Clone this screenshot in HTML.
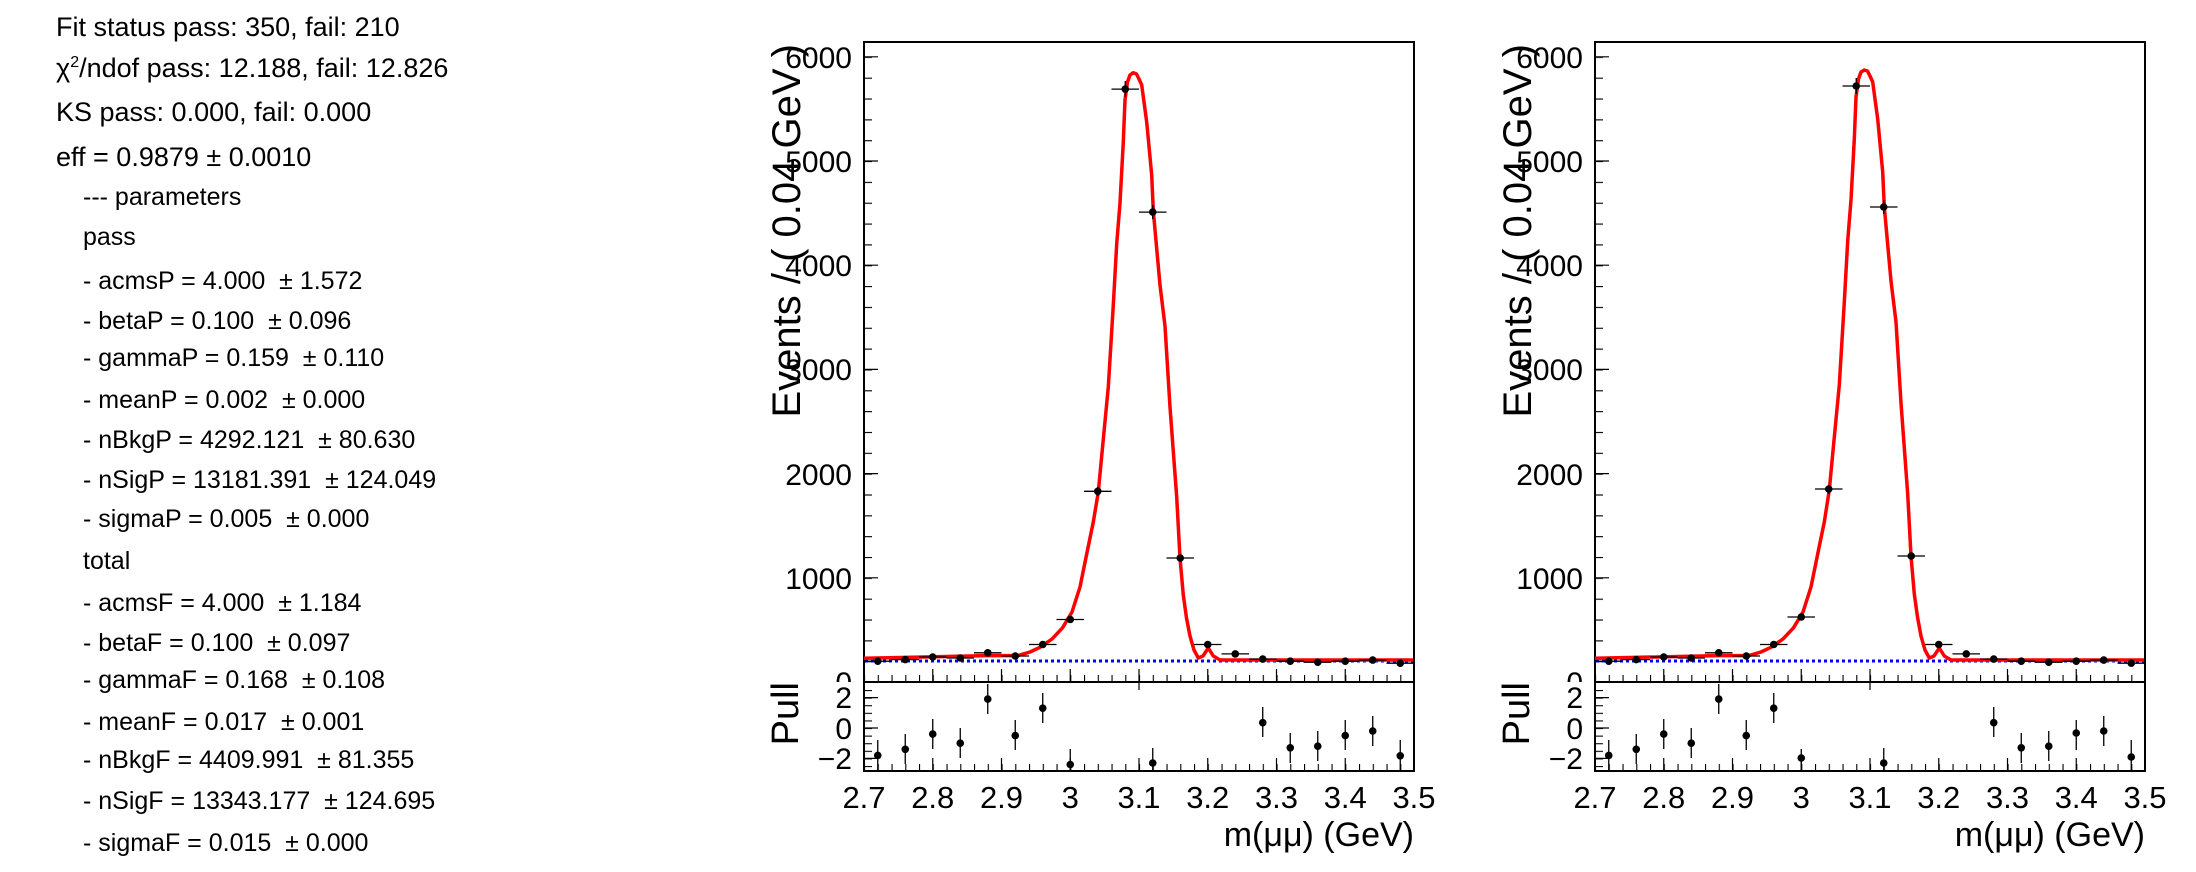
<!DOCTYPE html>
<html><head><meta charset="utf-8"><style>
body{margin:0;background:#fff;}
svg{display:block;font-family:"Liberation Sans",Arial,sans-serif;}
</style></head><body>
<svg width="2196" height="872" viewBox="0 0 2196 872" xmlns="http://www.w3.org/2000/svg">
<defs>
<pattern id="xm" x="864" y="0" width="13.75" height="872" patternUnits="userSpaceOnUse"><line x1="0.5" y1="0" x2="0.5" y2="872" stroke="#000" stroke-width="1.2"/></pattern>
<pattern id="ym" x="0" y="682" width="50" height="20.84" patternUnits="userSpaceOnUse"><line x1="0" y1="0.5" x2="50" y2="0.5" stroke="#000" stroke-width="1.2"/></pattern>
<pattern id="pm" x="0" y="728" width="50" height="7.6" patternUnits="userSpaceOnUse"><line x1="0" y1="0.5" x2="50" y2="0.5" stroke="#000" stroke-width="1.2"/></pattern>
</defs>

<g font-size="27" fill="#000">
<text x="56" y="36">Fit status pass: 350, fail: 210</text>
<text x="56" y="77">χ<tspan font-size="16" dy="-10">2</tspan><tspan dy="10">/ndof pass: 12.188, fail: 12.826</tspan></text>
<text x="56" y="121">KS pass: 0.000, fail: 0.000</text>
<text x="56" y="166">eff = 0.9879 ± 0.0010</text>
</g>
<g font-size="25" fill="#000">
<text x="83" y="205">--- parameters</text>
<text x="83" y="245">pass</text>
<text x="83" y="289">- acmsP = 4.000 &#160;± 1.572</text>
<text x="83" y="329">- betaP = 0.100 &#160;± 0.096</text>
<text x="83" y="366">- gammaP = 0.159 &#160;± 0.110</text>
<text x="83" y="408">- meanP = 0.002 &#160;± 0.000</text>
<text x="83" y="448">- nBkgP = 4292.121 &#160;± 80.630</text>
<text x="83" y="488">- nSigP = 13181.391 &#160;± 124.049</text>
<text x="83" y="527">- sigmaP = 0.005 &#160;± 0.000</text>
<text x="83" y="569">total</text>
<text x="83" y="611">- acmsF = 4.000 &#160;± 1.184</text>
<text x="83" y="651">- betaF = 0.100 &#160;± 0.097</text>
<text x="83" y="688">- gammaF = 0.168 &#160;± 0.108</text>
<text x="83" y="730">- meanF = 0.017 &#160;± 0.001</text>
<text x="83" y="768">- nBkgF = 4409.991 &#160;± 81.355</text>
<text x="83" y="809">- nSigF = 13343.177 &#160;± 124.695</text>
<text x="83" y="851">- sigmaF = 0.015 &#160;± 0.000</text>
</g>

<g>
<g font-size="30" text-anchor="end">
<text x="852" y="693">0</text>
<text x="852" y="589">1000</text>
<text x="852" y="485">2000</text>
<text x="852" y="380">3000</text>
<text x="852" y="276">4000</text>
<text x="852" y="172">5000</text>
<text x="852" y="68">6000</text>
</g>
<text transform="translate(800,44) rotate(-90)" font-size="40" text-anchor="end">Events / ( 0.04 GeV )</text>
<rect x="760" y="682" width="660" height="100" fill="#fff"/>
<text transform="translate(798,682) rotate(-90)" font-size="38" text-anchor="end">Pull</text>
<g font-size="30" text-anchor="end">
<text x="852" y="708">2</text>
<text x="852" y="739">0</text>
<text x="852" y="769">−2</text>
</g>
<rect x="864" y="42" width="550" height="640" fill="none" stroke="#000" stroke-width="2"/>
<rect x="864" y="682" width="550" height="89" fill="none" stroke="#000" stroke-width="2"/>
<rect x="864" y="675" width="551" height="6" fill="url(#xm)"/>
<rect x="864" y="764" width="551" height="6" fill="url(#xm)"/>
<path d="M864 681v-12M932.75 681v-12M1001.5 681v-12M1070.25 681v-12M1139 681v-12M1207.75 681v-12M1276.5 681v-12M1345.25 681v-12M1414 681v-12M864 770v-12M932.75 770v-12M1001.5 770v-12M1070.25 770v-12M1139 770v-12M1207.75 770v-12M1276.5 770v-12M1345.25 770v-12M1414 770v-12M1139 682v8" stroke="#000" stroke-width="1.2"/>
<rect x="865" y="43" width="7" height="639" fill="url(#ym)"/>
<path d="M865 577.8h13M865 473.6h13M865 369.4h13M865 265.2h13M865 161h13M865 56.8h13M865 758.4h13M865 728h13M865 697.6h13" stroke="#000" stroke-width="1.2"/>
<rect x="865" y="684" width="7" height="86" fill="url(#pm)"/>
<g font-size="31" text-anchor="middle">
<text x="864" y="808">2.7</text><text x="932.75" y="808">2.8</text><text x="1001.5" y="808">2.9</text><text x="1070.25" y="808">3</text><text x="1139" y="808">3.1</text><text x="1207.75" y="808">3.2</text><text x="1276.5" y="808">3.3</text><text x="1345.25" y="808">3.4</text><text x="1414" y="808">3.5</text>
</g>
<text x="1414" y="846" font-size="34" text-anchor="end">m(μμ) (GeV)</text>
<line x1="865" y1="661" x2="1413" y2="661" stroke="#00f" stroke-width="3" stroke-dasharray="3,3"/>
<polyline fill="none" stroke="#f00" stroke-width="3.5" stroke-linejoin="round" points="864,658.3 986.6,655.6 1017.9,655.6 1030,652 1040.2,647.2 1052,639 1062.5,627.8 1072,612 1080,587 1086.7,554 1093.3,522 1098.3,492 1101.7,456 1108.3,387 1113.3,305 1116.7,244 1120,203 1123.3,142 1125,100 1127.5,82 1130,75 1133.3,72.7 1136.5,74 1139,79 1141.7,85 1146.7,122 1151.7,175 1153.3,211 1160,285 1165,326 1170,407 1176.7,497 1180,558 1183.3,595 1186.5,618 1190,636 1194,650 1198.3,658 1203,656 1208.3,648 1213.3,656 1220,660 1413,660"/>
<g stroke="#000" stroke-width="1.3">
<path d="M864 661.2h27.5M891.5 659.6h27.5M919 657h27.5M946.5 658h27.5M974 652.8h27.5M1001.5 656h27.5M1029 644.5h27.5M1056.5 619.5h27.5M1084 491.3h27.5M1111.5 89.1h27.5M1139 212.1h27.5M1166.5 558h27.5M1194 644.5h27.5M1221.5 653.9h27.5M1249 659.1h27.5M1276.5 661.2h27.5M1304 662.2h27.5M1331.5 661.2h27.5M1359 660.1h27.5M1386.5 663.2h27.5"/>
<path d="M1070.25 617v5M1097.75 487v9M1125.25 81v16M1152.75 205v14M1180.25 554v8M1207.75 642v5"/>
<path d="M877.75 740v30M905.25 734v30M932.75 719v30M960.25 728v30M987.75 684v30M1015.25 720v30M1042.75 693v30M1070.25 749v22M1152.75 748v23M1262.75 707v30M1290.25 733v30M1317.75 731v30M1345.25 720v30M1372.75 716v30M1400.25 740v30"/>
</g>
<g fill="#000">
<circle cx="877.75" cy="661.2" r="3.8"/><circle cx="905.25" cy="659.6" r="3.8"/><circle cx="932.75" cy="657" r="3.8"/><circle cx="960.25" cy="658" r="3.8"/><circle cx="987.75" cy="652.8" r="3.8"/><circle cx="1015.25" cy="656" r="3.8"/><circle cx="1042.75" cy="644.5" r="3.8"/><circle cx="1070.25" cy="619.5" r="3.8"/><circle cx="1097.75" cy="491.3" r="3.8"/><circle cx="1125.25" cy="89.1" r="3.8"/><circle cx="1152.75" cy="212.1" r="3.8"/><circle cx="1180.25" cy="558" r="3.8"/><circle cx="1207.75" cy="644.5" r="3.8"/><circle cx="1235.25" cy="653.9" r="3.8"/><circle cx="1262.75" cy="659.1" r="3.8"/><circle cx="1290.25" cy="661.2" r="3.8"/><circle cx="1317.75" cy="662.2" r="3.8"/><circle cx="1345.25" cy="661.2" r="3.8"/><circle cx="1372.75" cy="660.1" r="3.8"/><circle cx="1400.25" cy="663.2" r="3.8"/>
<circle cx="877.75" cy="755.4" r="3.8"/><circle cx="905.25" cy="749.3" r="3.8"/><circle cx="932.75" cy="734.1" r="3.8"/><circle cx="960.25" cy="743.2" r="3.8"/><circle cx="987.75" cy="699.1" r="3.8"/><circle cx="1015.25" cy="735.6" r="3.8"/><circle cx="1042.75" cy="708.2" r="3.8"/><circle cx="1070.25" cy="764.5" r="3.8"/><circle cx="1152.75" cy="763" r="3.8"/><circle cx="1262.75" cy="722.7" r="3.8"/><circle cx="1290.25" cy="747.8" r="3.8"/><circle cx="1317.75" cy="746.2" r="3.8"/><circle cx="1345.25" cy="735.6" r="3.8"/><circle cx="1372.75" cy="731" r="3.8"/><circle cx="1400.25" cy="755.8" r="3.8"/>
</g>
</g>

<g transform="translate(731,0)">
<g font-size="30" text-anchor="end">
<text x="852" y="693">0</text>
<text x="852" y="589">1000</text>
<text x="852" y="485">2000</text>
<text x="852" y="380">3000</text>
<text x="852" y="276">4000</text>
<text x="852" y="172">5000</text>
<text x="852" y="68">6000</text>
</g>
<text transform="translate(800,44) rotate(-90)" font-size="40" text-anchor="end">Events / ( 0.04 GeV )</text>
<rect x="760" y="682" width="660" height="100" fill="#fff"/>
<text transform="translate(798,682) rotate(-90)" font-size="38" text-anchor="end">Pull</text>
<g font-size="30" text-anchor="end">
<text x="852" y="708">2</text>
<text x="852" y="739">0</text>
<text x="852" y="769">−2</text>
</g>
<rect x="864" y="42" width="550" height="640" fill="none" stroke="#000" stroke-width="2"/>
<rect x="864" y="682" width="550" height="89" fill="none" stroke="#000" stroke-width="2"/>
<rect x="864" y="675" width="551" height="6" fill="url(#xm)"/>
<rect x="864" y="764" width="551" height="6" fill="url(#xm)"/>
<path d="M864 681v-12M932.75 681v-12M1001.5 681v-12M1070.25 681v-12M1139 681v-12M1207.75 681v-12M1276.5 681v-12M1345.25 681v-12M1414 681v-12M864 770v-12M932.75 770v-12M1001.5 770v-12M1070.25 770v-12M1139 770v-12M1207.75 770v-12M1276.5 770v-12M1345.25 770v-12M1414 770v-12M1139 682v8" stroke="#000" stroke-width="1.2"/>
<rect x="865" y="43" width="7" height="639" fill="url(#ym)"/>
<path d="M865 577.8h13M865 473.6h13M865 369.4h13M865 265.2h13M865 161h13M865 56.8h13M865 758.4h13M865 728h13M865 697.6h13" stroke="#000" stroke-width="1.2"/>
<rect x="865" y="684" width="7" height="86" fill="url(#pm)"/>
<g font-size="31" text-anchor="middle">
<text x="864" y="808">2.7</text><text x="932.75" y="808">2.8</text><text x="1001.5" y="808">2.9</text><text x="1070.25" y="808">3</text><text x="1139" y="808">3.1</text><text x="1207.75" y="808">3.2</text><text x="1276.5" y="808">3.3</text><text x="1345.25" y="808">3.4</text><text x="1414" y="808">3.5</text>
</g>
<text x="1414" y="846" font-size="34" text-anchor="end">m(μμ) (GeV)</text>
<line x1="865" y1="661" x2="1413" y2="661" stroke="#00f" stroke-width="3" stroke-dasharray="3,3"/>
<polyline fill="none" stroke="#f00" stroke-width="3.5" stroke-linejoin="round" points="864,658.3 986.6,655.6 1017.9,655.6 1030,652 1040.2,647.2 1052,639 1062.5,627.8 1072,612 1080,587 1086.7,554 1093.3,522 1098.3,490 1101.7,454 1108.3,385 1113.3,302 1116.7,241 1120,200 1123.3,139 1125,97 1127.5,79 1130,72 1133.3,70 1136.5,71 1139,76 1141.7,82 1146.7,119 1151.7,172 1153.3,207 1160,281 1165,322 1170,403 1176.7,494 1180,556 1183.3,594 1186.5,617 1190,636 1194,650 1198.3,658 1203,656 1208.3,648 1213.3,656 1220,660 1413,660"/>
<g stroke="#000" stroke-width="1.3">
<path d="M864 661.2h27.5M891.5 659.6h27.5M919 657h27.5M946.5 658h27.5M974 652.8h27.5M1001.5 656h27.5M1029 644.5h27.5M1056.5 617h27.5M1084 489h27.5M1111.5 86h27.5M1139 207h27.5M1166.5 556h27.5M1194 644.5h27.5M1221.5 653.9h27.5M1249 659.1h27.5M1276.5 661.2h27.5M1304 662.2h27.5M1331.5 661.2h27.5M1359 660.1h27.5M1386.5 663.2h27.5"/>
<path d="M1070.25 614v5M1097.75 485v9M1125.25 78v16M1152.75 200v14M1180.25 552v8M1207.75 642v5"/>
<path d="M877.75 740v30M905.25 734v30M932.75 719v30M960.25 728v30M987.75 684v30M1015.25 720v30M1042.75 693v30M1070.25 749v22M1152.75 748v23M1262.75 707v30M1290.25 733v30M1317.75 731v30M1345.25 720v30M1372.75 716v30M1400.25 740v30"/>
</g>
<g fill="#000">
<circle cx="877.75" cy="661.2" r="3.8"/><circle cx="905.25" cy="659.6" r="3.8"/><circle cx="932.75" cy="657" r="3.8"/><circle cx="960.25" cy="658" r="3.8"/><circle cx="987.75" cy="652.8" r="3.8"/><circle cx="1015.25" cy="656" r="3.8"/><circle cx="1042.75" cy="644.5" r="3.8"/><circle cx="1070.25" cy="617" r="3.8"/><circle cx="1097.75" cy="489" r="3.8"/><circle cx="1125.25" cy="86" r="3.8"/><circle cx="1152.75" cy="207" r="3.8"/><circle cx="1180.25" cy="556" r="3.8"/><circle cx="1207.75" cy="644.5" r="3.8"/><circle cx="1235.25" cy="653.9" r="3.8"/><circle cx="1262.75" cy="659.1" r="3.8"/><circle cx="1290.25" cy="661.2" r="3.8"/><circle cx="1317.75" cy="662.2" r="3.8"/><circle cx="1345.25" cy="661.2" r="3.8"/><circle cx="1372.75" cy="660.1" r="3.8"/><circle cx="1400.25" cy="663.2" r="3.8"/>
<circle cx="877.75" cy="755.4" r="3.8"/><circle cx="905.25" cy="749.3" r="3.8"/><circle cx="932.75" cy="734.1" r="3.8"/><circle cx="960.25" cy="743.2" r="3.8"/><circle cx="987.75" cy="699.1" r="3.8"/><circle cx="1015.25" cy="735.6" r="3.8"/><circle cx="1042.75" cy="708.2" r="3.8"/><circle cx="1070.25" cy="758" r="3.8"/><circle cx="1152.75" cy="763" r="3.8"/><circle cx="1262.75" cy="722.7" r="3.8"/><circle cx="1290.25" cy="747.8" r="3.8"/><circle cx="1317.75" cy="746.2" r="3.8"/><circle cx="1345.25" cy="733" r="3.8"/><circle cx="1372.75" cy="731" r="3.8"/><circle cx="1400.25" cy="757" r="3.8"/>
</g>
</g>
</svg>
</body></html>
